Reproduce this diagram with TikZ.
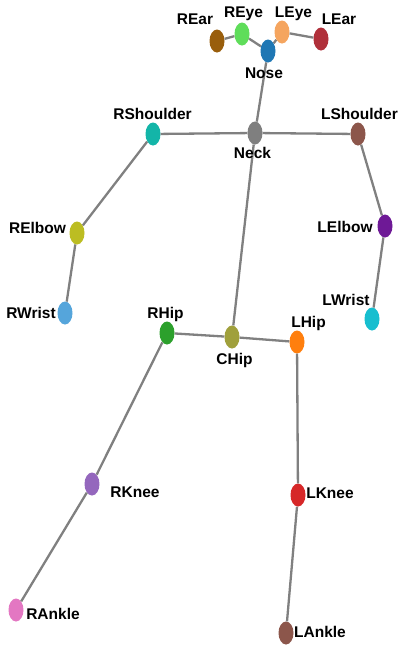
\documentclass[tikz,border=0pt]{standalone}
\usepackage{fontspec}
\setmainfont{Liberation Sans}
\usetikzlibrary{shapes.geometric}
\definecolor{cREar}{RGB}{153,94,12}
\definecolor{cREye}{RGB}{95,221,90}
\definecolor{cLEye}{RGB}{245,165,95}
\definecolor{cLEar}{RGB}{176,48,58}
\definecolor{cNose}{RGB}{31,119,180}
\definecolor{cNeck}{RGB}{127,127,127}
\definecolor{cRSh}{RGB}{19,181,168}
\definecolor{cLSh}{RGB}{140,86,75}
\definecolor{cREl}{RGB}{188,189,34}
\definecolor{cRWr}{RGB}{85,165,219}
\definecolor{cLEl}{RGB}{110,25,150}
\definecolor{cLWr}{RGB}{23,190,207}
\definecolor{cRHip}{RGB}{44,160,44}
\definecolor{cCHip}{RGB}{160,160,60}
\definecolor{cLHip}{RGB}{255,127,14}
\definecolor{cRKn}{RGB}{148,103,189}
\definecolor{cLKn}{RGB}{214,39,40}
\definecolor{cRAn}{RGB}{227,119,194}
\definecolor{cLAn}{RGB}{140,86,75}
\definecolor{edgec}{RGB}{128,128,128}
\begin{document}
\begin{tikzpicture}[x=1pt,y=-1pt,
  joint/.style={ellipse,minimum width=15pt,minimum height=23pt,inner sep=0pt,fill=#1},
  lbl/.style={font=\bfseries\fontsize{15.5}{17}\selectfont,inner sep=0pt,anchor=base},
  bone/.style={draw=edgec,line width=2.3pt}]
\useasboundingbox (0,0) rectangle (398,646);
% joints
\node[joint=cREar] (REar) at (217,41) {};
\node[joint=cREye] (REye) at (242,34) {};
\node[joint=cLEye] (LEye) at (282,32) {};
\node[joint=cLEar] (LEar) at (321,39) {};
\node[joint=cNose] (Nose) at (268,51) {};
\node[joint=cNeck] (Neck) at (255,133) {};
\node[joint=cRSh] (RShoulder) at (153,134) {};
\node[joint=cLSh] (LShoulder) at (358,134) {};
\node[joint=cREl] (RElbow) at (77,233) {};
\node[joint=cRWr] (RWrist) at (65,313) {};
\node[joint=cLEl] (LElbow) at (385,226) {};
\node[joint=cLWr] (LWrist) at (372,319) {};
\node[joint=cRHip] (RHip) at (167,333) {};
\node[joint=cCHip] (CHip) at (232,337) {};
\node[joint=cLHip] (LHip) at (297,342) {};
\node[joint=cRKn] (RKnee) at (92,484) {};
\node[joint=cLKn] (LKnee) at (298,495) {};
\node[joint=cRAn] (RAnkle) at (16,610) {};
\node[joint=cLAn] (LAnkle) at (286,633) {};
% bones
\draw[bone] (REar) -- (REye);
\draw[bone] (REye) -- (Nose);
\draw[bone] (Nose) -- (LEye);
\draw[bone] (LEye) -- (LEar);
\draw[bone] (Nose) -- (Neck);
\draw[bone] (Neck) -- (RShoulder);
\draw[bone] (Neck) -- (LShoulder);
\draw[bone] (RShoulder) -- (RElbow);
\draw[bone] (RElbow) -- (RWrist);
\draw[bone] (LShoulder) -- (LElbow);
\draw[bone] (LElbow) -- (LWrist);
\draw[bone] (Neck) -- (CHip);
\draw[bone] (CHip) -- (RHip);
\draw[bone] (CHip) -- (LHip);
\draw[bone] (RHip) -- (RKnee);
\draw[bone] (RKnee) -- (RAnkle);
\draw[bone] (LHip) -- (LKnee);
\draw[bone] (LKnee) -- (LAnkle);
% labels (anchored at baseline)
\node[lbl] (tREar) at (195,24) {REar};
\node[lbl] (tREye) at (243.5,17) {REye};
\node[lbl] (tLEye) at (293.5,17) {LEye};
\node[lbl] (tLEar) at (339,24) {LEar};
\node[lbl] (tNose) at (264,78) {Nose};
\node[lbl] (tNeck) at (252.5,158) {Neck};
\node[lbl] (tRSh) at (152.5,119) {RShoulder};
\node[lbl] (tLSh) at (359.5,119) {LShoulder};
\node[lbl] (tREl) at (37.5,233) {RElbow};
\node[lbl] (tRWr) at (31,318) {RWrist};
\node[lbl] (tLEl) at (345,232) {LElbow};
\node[lbl] (tLWr) at (346,305) {LWrist};
\node[lbl] (tRHip) at (165.5,318) {RHip};
\node[lbl] (tCHip) at (234.5,364) {CHip};
\node[lbl] (tLHip) at (308.5,327) {LHip};
\node[lbl] (tRKn) at (135,497) {RKnee};
\node[lbl] (tLKn) at (330,498) {LKnee};
\node[lbl] (tRAn) at (53,619) {RAnkle};
\node[lbl] (tLAn) at (320,637) {LAnkle};
\end{tikzpicture}
\end{document}
